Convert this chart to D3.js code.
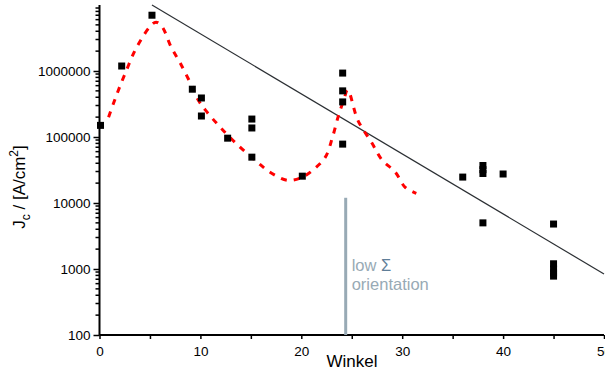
<!DOCTYPE html>
<html>
<head>
<meta charset="utf-8">
<script src="https://cdn.jsdelivr.net/npm/d3@7"></script>
<style>
  body { margin: 0; background: #fff; }
  svg { display: block; font-family: "Liberation Sans", Arial, sans-serif; }
</style>
</head>
<body>
<div id="chart"></div>
<script>
"use strict"

const WIDTH = 605;
const HEIGHT = 375;
const X0 = 99.5, X1 = 604;
const Y_TOP = 5, Y_BOT = 335;
const SQ = 7;

// measured points: angle (Winkel) and Jc
const angles = [0.1, 2.2, 5.2, 9.2, 10.1, 10.1, 12.7, 15.1, 15.1, 15.1, 20.1,
	24.1, 24.1, 24.1, 24.1, 36.0, 38.0, 38.0, 38.0, 38.0, 40.0,
	45.0, 45.0, 45.0, 45.0, 45.0];
const jc = [150000, 1190000, 7000000, 530000, 390000, 208000, 96000, 187000, 137000, 49500, 25500,
	930000, 500000, 340000, 78000, 24700, 37000, 32000, 28000, 5000, 27500,
	4800, 1200, 1000, 870, 780];

// red dashed fit
const fitX = [0.9, 1.5, 2.0, 2.7, 3.4, 4.1, 5.0, 5.6, 6.2, 7.1, 8.0, 9.0, 9.8, 10.5, 11.8,
	13.5, 15.6, 17.1, 18.7, 20.1, 21.4, 22.4, 23.1, 23.7, 24.2, 24.6, 25.6, 27.0, 28.0,
	29.3, 30.3, 31.4];
const fitY = [200000, 360000, 575000, 1050000, 1880000, 2950000, 4700000, 5500000, 4700000,
	2300000, 1320000, 660000, 360000, 255000, 150000, 81000, 42000, 28000, 22000, 24600,
	34000, 50000, 100000, 215000, 360000, 515000, 180000, 81000, 45000, 29500, 17300, 14000];

// black straight line
const lineX = [5.2, 50];
const lineY = [10000000, 840];

const markerX = 24.4;
const markerTop = 12000;

const yTicks = [100, 1000, 10000, 100000, 1000000];

const svg = d3.select('#chart')
	.append('svg')
	.attr('width', WIDTH)
	.attr('height', HEIGHT);

const x = d3.scaleLinear().domain([0, 50]).range([X0, X1]);
const y = d3.scaleLog().domain([100, 10000000]).range([Y_BOT, Y_TOP]);

// y axis
const yAxis = svg.append('g')
	.attr('transform', 'translate(' + X0 + ',0)')
	.call(d3.axisLeft(y).tickValues(yTicks).tickFormat(d3.format('d')).tickSize(6).tickPadding(3));
// minor ticks
const minor = [];
for (let e = 2; e < 7; e++)
	for (let m = 2; m <= 9; m++) minor.push(m * Math.pow(10, e));
yAxis.selectAll('.minor')
	.data(minor)
	.enter()
	.append('line')
	.attr('class', 'minor')
	.attr('x1', -4).attr('x2', 0)
	.attr('y1', d => y(d)).attr('y2', d => y(d))
	.attr('stroke', '#000').attr('stroke-width', 1.5);

// x axis
const xAxis = svg.append('g')
	.attr('transform', 'translate(0,' + Y_BOT + ')')
	.call(d3.axisBottom(x).tickValues(d3.range(0, 51, 5)).tickFormat(d => d % 10 ? '' : d).tickSize(4).tickPadding(4));

[yAxis, xAxis].forEach(function (a) {
	a.select('.domain').attr('stroke', '#000').attr('stroke-width', 2);
	a.selectAll('.tick line').attr('stroke', '#000').attr('stroke-width', 1.5);
	a.selectAll('.tick text').attr('fill', '#000').style('font-size', '13.5px')
		.style('font-family', '"Liberation Sans", Arial, sans-serif');
});
yAxis.select('.domain').attr('d', 'M0,' + Y_TOP + 'V' + Y_BOT);
xAxis.select('.domain').attr('d', 'M' + X0 + ',0H' + X1);
yAxis.selectAll('.tick text').attr('dy', '0.36em');
xAxis.selectAll('.tick text').attr('dy', '0.95em');

// marker line and label
svg.append('line')
	.attr('x1', x(markerX)).attr('x2', x(markerX))
	.attr('y1', y(markerTop)).attr('y2', Y_BOT)
	.attr('stroke', '#98aab5').attr('stroke-width', 3);

const lbl = svg.append('text')
	.attr('x', x(markerX) + 6)
	.attr('y', 271)
	.attr('fill', '#98aab5')
	.style('font-size', '16.5px');
lbl.append('tspan').text('low ');
lbl.append('tspan').attr('fill', '#5f7e98').text('Σ');
svg.append('text')
	.attr('x', x(markerX) + 6)
	.attr('y', 290)
	.attr('fill', '#98aab5')
	.style('font-size', '16.5px')
	.text('orientation');

// straight line
svg.append('path')
	.datum(lineX.map((d, i) => [d, lineY[i]]))
	.attr('d', d3.line().x(d => x(d[0])).y(d => y(d[1])))
	.attr('fill', 'none')
	.attr('stroke', '#2b2f33')
	.attr('stroke-width', 1.2);

// red dashed curve
svg.append('path')
	.datum(fitX.map((d, i) => [d, fitY[i]]))
	.attr('d', d3.line().x(d => x(d[0])).y(d => y(d[1])).curve(d3.curveCatmullRom))
	.attr('fill', 'none')
	.attr('stroke', '#ff0000')
	.attr('stroke-width', 3)
	.attr('stroke-dasharray', '6,7');

// squares
svg.selectAll('.pt')
	.data(angles.map((d, i) => [d, jc[i]]))
	.enter()
	.append('rect')
	.attr('class', 'pt')
	.attr('x', d => x(d[0]) - SQ / 2)
	.attr('y', d => y(d[1]) - SQ / 2)
	.attr('width', SQ)
	.attr('height', SQ)
	.attr('fill', '#000');

// axis titles
svg.append('text')
	.attr('x', 352)
	.attr('y', 367)
	.attr('text-anchor', 'middle')
	.style('font-size', '17px')
	.text('Winkel');

const yl = svg.append('text')
	.attr('transform', 'translate(25,187) rotate(-90)')
	.attr('text-anchor', 'middle')
	.style('font-size', '17px');
yl.append('tspan').text('J');
yl.append('tspan').attr('dy', 5).style('font-size', '12px').text('c');
yl.append('tspan').attr('dy', -5).text(' / [A/cm');
yl.append('tspan').attr('dy', -7).style('font-size', '12px').text('2');
yl.append('tspan').attr('dy', 7).text(']');
</script>
</body>
</html>
